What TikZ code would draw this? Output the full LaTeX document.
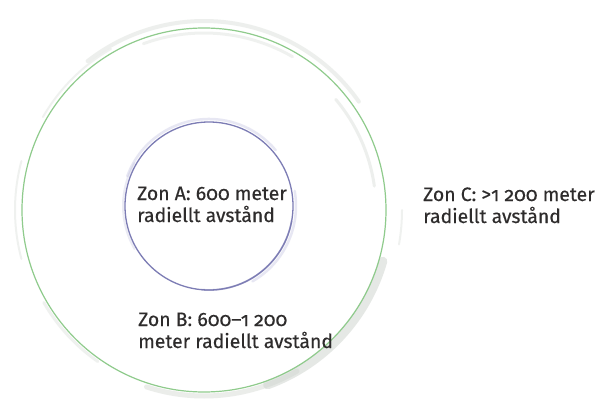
\documentclass[tikz,border=0pt]{standalone}
\usepackage{fontspec}
\setmainfont[Numbers=OldStyle,FakeBold=0.4]{Fira Sans}
\definecolor{ringgreen}{HTML}{8FCB8C}
\definecolor{brushgrey}{HTML}{CDD3CC}
\definecolor{ringblue}{HTML}{7C7CB4}
\definecolor{brushblue}{HTML}{BDBDDD}
\definecolor{labeltext}{HTML}{2E2C2C}
\tikzset{
  zonelabel/.style={anchor=base west, inner sep=0pt, align=left, text=labeltext,
    font=\fontsize{19.4}{22}\selectfont},
  greenring/.style={draw=ringgreen, line width=1.2pt},
  greybrush/.style={draw=brushgrey, line cap=round},
  bluering/.style={draw=ringblue, line width=1.3pt},
  bluebrush/.style={draw=brushblue, line cap=round}
}
\begin{document}
\begin{tikzpicture}[x=1pt,y=-1pt]
\useasboundingbox (0,0) rectangle (599,401);
\fill[white] (0,0) rectangle (599,401);
% centres
\coordinate (cg) at (204,210);
\coordinate (cb) at (209,206);
% ---- outer (green) ring brush strokes
\draw[greybrush, line width=4pt, opacity=0.35] ([shift={(-128:189)}]cg) arc[start angle=-128, end angle=-35, radius=189];
\draw[greybrush, line width=3pt, opacity=0.3] ([shift={(-110:177)}]cg) arc[start angle=-110, end angle=-60, radius=177];
\draw[greybrush, line width=2pt, opacity=0.3] ([shift={(-150:186)}]cg) arc[start angle=-150, end angle=-120, radius=186];
\draw[greybrush, line width=2pt, opacity=0.3] ([shift={(165:189)}]cg) arc[start angle=165, end angle=195, radius=189];
\draw[greybrush, line width=3pt, opacity=0.3] ([shift={(125:185)}]cg) arc[start angle=125, end angle=150, radius=185];
\draw[greybrush, line width=3pt, opacity=0.35] ([shift={(-40:172)}]cg) arc[start angle=-40, end angle=-8, radius=172];
\draw[greybrush, line width=2pt, opacity=0.3] ([shift={(0:198)}]cg) arc[start angle=0, end angle=10, radius=198];
\draw[greybrush, line width=9pt, opacity=0.5] ([shift={(16:186)}]cg) arc[start angle=16, end angle=70, radius=186];
\draw[greybrush, line width=5pt, opacity=0.4] ([shift={(60:186)}]cg) arc[start angle=60, end angle=108, radius=186];
% ---- inner (blue) ring brush strokes
\draw[bluebrush, line width=2.5pt, opacity=0.35] ([shift={(-160:87)}]cb) arc[start angle=-160, end angle=-40, radius=87];
\draw[bluebrush, line width=2pt, opacity=0.3] ([shift={(150:86)}]cb) arc[start angle=150, end angle=210, radius=86];
\draw[bluebrush, line width=2.5pt, opacity=0.35] ([shift={(-10:87)}]cb) arc[start angle=-10, end angle=60, radius=87];
\draw[ringblue, line width=1.8pt, opacity=0.5] ([shift={(10:84)}]cb) arc[start angle=10, end angle=95, radius=84];
% ---- main rings
\draw[greenring] (cg) circle[radius=182];
\draw[bluering] (cb) circle[radius=84];
% ---- labels (base anchor sits on the last line)
\node[zonelabel] (zA) at (137,222) {Zon A: 600 meter\\radiellt avstånd};
\node[zonelabel] (zB) at (138,348) {Zon B: 600–1 200\\meter radiellt avstånd};
\node[zonelabel] (zC) at (423,223) {Zon C: >1 200 meter\\radiellt avstånd};
\end{tikzpicture}
\end{document}
